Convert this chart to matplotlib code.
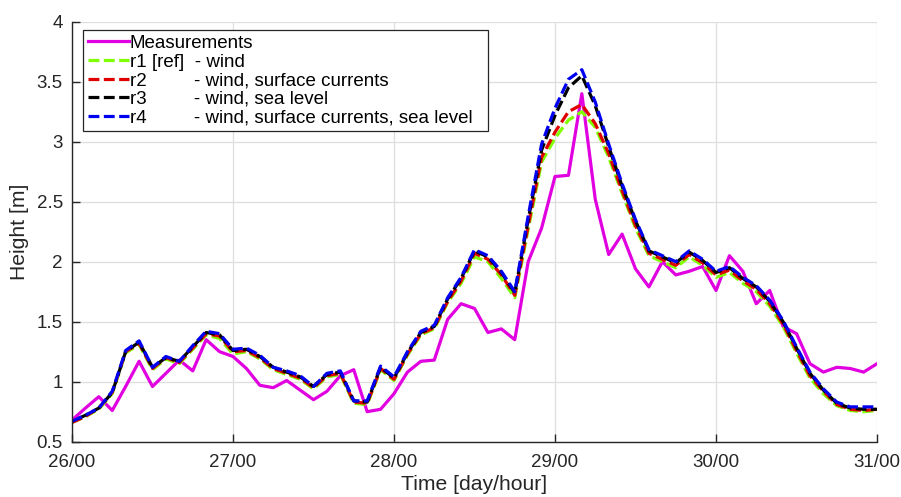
import numpy as np
import matplotlib
matplotlib.use("Agg")
from matplotlib import pyplot as plt

plt.rcParams['font.family'] = ['Liberation Sans', 'DejaVu Sans']

# time in hours from 26/00, 2 hour step
hours = np.arange(0, 121, 2)

meas = [0.68, 0.78, 0.875, 0.76, 0.96, 1.17, 0.96, 1.07, 1.18, 1.09, 1.35, 1.25, 1.21,
        1.11, 0.97, 0.95, 1.01, 0.93, 0.85, 0.92, 1.05, 1.10, 0.75, 0.77, 0.90,
        1.08, 1.17, 1.18, 1.52, 1.65, 1.61, 1.41, 1.44, 1.35, 2.00, 2.28, 2.71, 2.72, 3.40, 2.52, 2.06, 2.23, 1.94,
        1.79, 2.00, 1.89, 1.92, 1.96, 1.76, 2.05, 1.92, 1.65, 1.76, 1.46, 1.40, 1.15, 1.08, 1.12, 1.11, 1.08, 1.15]

r1 = [0.66, 0.71, 0.77, 0.90, 1.24, 1.31, 1.10, 1.19, 1.15, 1.27, 1.39, 1.36, 1.23,
      1.25, 1.19, 1.10, 1.06, 1.02, 0.94, 1.04, 1.06, 0.82, 0.81, 1.10, 1.01,
      1.22, 1.39, 1.44, 1.66, 1.82, 2.04, 2.00, 1.86, 1.70, 2.27, 2.83, 3.03, 3.18, 3.25, 3.12, 2.87, 2.57, 2.28,
      2.05, 2.00, 1.95, 2.04, 1.97, 1.87, 1.91, 1.82, 1.75, 1.63, 1.46, 1.24, 1.03, 0.90, 0.80, 0.76, 0.75, 0.76]

r2 = [0.66, 0.71, 0.78, 0.91, 1.25, 1.32, 1.11, 1.20, 1.16, 1.28, 1.40, 1.38, 1.25,
      1.26, 1.20, 1.11, 1.07, 1.03, 0.95, 1.05, 1.07, 0.83, 0.82, 1.11, 1.02,
      1.23, 1.40, 1.45, 1.67, 1.84, 2.07, 2.02, 1.89, 1.72, 2.30, 2.87, 3.08, 3.25, 3.31, 3.15, 2.90, 2.59, 2.30,
      2.07, 2.02, 1.97, 2.06, 1.99, 1.89, 1.93, 1.84, 1.77, 1.65, 1.48, 1.26, 1.05, 0.92, 0.81, 0.77, 0.76, 0.77]

r3 = [0.67, 0.72, 0.78, 0.91, 1.25, 1.33, 1.12, 1.20, 1.17, 1.29, 1.41, 1.39, 1.26,
      1.27, 1.21, 1.12, 1.08, 1.04, 0.96, 1.06, 1.08, 0.84, 0.83, 1.12, 1.03,
      1.24, 1.41, 1.46, 1.69, 1.86, 2.09, 2.04, 1.91, 1.74, 2.35, 2.93, 3.22, 3.45, 3.55, 3.30, 2.96, 2.63, 2.34,
      2.09, 2.04, 1.99, 2.08, 2.01, 1.91, 1.95, 1.86, 1.79, 1.67, 1.50, 1.28, 1.07, 0.93, 0.82, 0.78, 0.77, 0.77]

r4 = [0.67, 0.72, 0.78, 0.92, 1.26, 1.34, 1.12, 1.21, 1.17, 1.30, 1.42, 1.40, 1.27,
      1.28, 1.22, 1.12, 1.09, 1.05, 0.96, 1.07, 1.09, 0.84, 0.84, 1.13, 1.04,
      1.25, 1.42, 1.47, 1.70, 1.87, 2.10, 2.05, 1.92, 1.75, 2.38, 2.98, 3.28, 3.52, 3.60, 3.33, 2.98, 2.65, 2.35,
      2.10, 2.05, 2.00, 2.09, 2.02, 1.92, 1.96, 1.87, 1.80, 1.68, 1.51, 1.29, 1.08, 0.94, 0.83, 0.79, 0.79, 0.79]

labels = ["Measurements",
          "r1 [ref]  - wind",
          "r2         - wind, surface currents",
          "r3         - wind, sea level",
          "r4         - wind, surface currents, sea level  "]

xticks = [26, 27, 28, 29, 30, 31]
xticks_txt = ["26/00", "27/00", "28/00", "29/00", "30/00", "31/00"]
yticks = [0.5, 1, 1.5, 2, 2.5, 3, 3.5, 4]
yticks_txt = ["0.5", "1", "1.5", "2", "2.5", "3", "3.5", "4"]

days = 26 + hours / 24.0
axcol = "#262626"
dash = (3.4, 1.4)

fig = plt.figure(figsize=(9.01, 4.97), dpi=100)
ax = fig.add_axes([0.0799, 0.1113, 0.8935, 0.845])

ax.plot(days, meas, "-", color="#e000e0", lw=2.3, label=labels[0])
ax.plot(days, r1, color="#80ff00", lw=2.3, linestyle=(0, dash), label=labels[1])
ax.plot(days, r2, color="#e00000", lw=2.3, linestyle=(0, dash), label=labels[2])
# black dash shifted so it shows in the gaps of the blue one
ax.plot(days, r3, color="black", lw=2.3, linestyle=(2.6, dash), label=labels[3])
ax.plot(days, r4, color="#0000f0", lw=2.3, linestyle=(0, dash), label=labels[4])

ax.set_xlim(26, 31)
ax.set_ylim(0.5, 4)
ax.set_xticks(xticks, xticks_txt)
ax.set_yticks(yticks, yticks_txt)
ax.grid(True, color="#dedede", lw=0.9)
ax.set_axisbelow(True)
for s in ["top", "right"]:
    ax.spines[s].set_visible(False)
for s in ["left", "bottom"]:
    ax.spines[s].set_color(axcol)
    ax.spines[s].set_linewidth(1.0)
ax.tick_params(direction="in", length=6, width=1.0, colors=axcol, labelsize=13.5)
ax.tick_params(axis="x", pad=9)
ax.tick_params(axis="y", pad=6.5)
ax.set_xlabel("Time [day/hour]", fontsize=15.2, color=axcol, labelpad=3)
ax.set_ylabel("Height [m]", fontsize=15.2, color=axcol, labelpad=5.5)

leg = ax.legend(loc="upper left", bbox_to_anchor=(0.0137, 0.98), borderaxespad=0,
                fontsize=13.5, frameon=True, fancybox=False, framealpha=1,
                handlelength=2.2, handletextpad=0.05, labelspacing=0.08,
                borderpad=0.25)
leg.get_frame().set_edgecolor(axcol)
leg.get_frame().set_linewidth(0.9)
leg.get_lines()[3].set_linestyle((0, dash))

plt.savefig("out.png", dpi=100)
